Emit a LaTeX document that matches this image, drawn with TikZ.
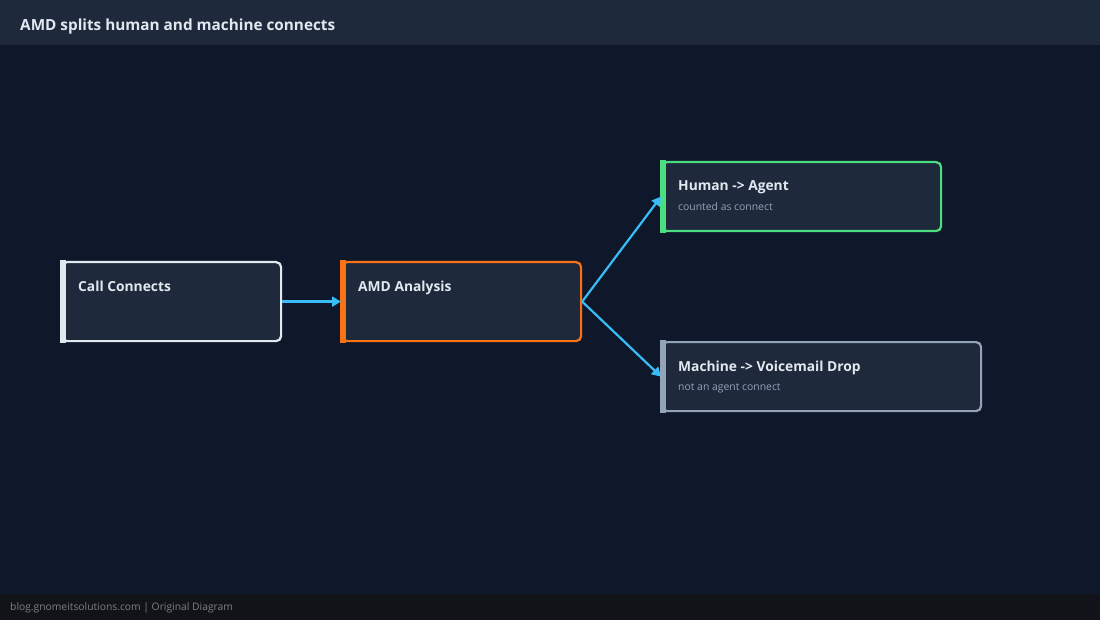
\documentclass[tikz,border=0pt]{standalone}
\usepackage{fontspec}
\setmainfont{Open Sans}
\usetikzlibrary{calc,arrows.meta}
\definecolor{bgdark}{HTML}{0F172A}
\definecolor{bgbar}{HTML}{1E293B}
\definecolor{boxfill}{HTML}{1E293B}
\definecolor{footbg}{HTML}{111318}
\definecolor{linkblue}{HTML}{38BDF8}
\definecolor{cwhite}{HTML}{E2E8F0}
\definecolor{corange}{HTML}{F97316}
\definecolor{cgreen}{HTML}{4ADE80}
\definecolor{cgray}{HTML}{94A3B8}
\tikzset{
  stepbox/.style={draw=#1, fill=boxfill, line width=2.2pt, rounded corners=5pt, inner sep=0pt, anchor=north west},
  steptitle/.style={anchor=base west, text=cwhite, font=\bfseries\fontsize{13.8}{15}\selectfont, inner sep=0pt},
  stepsub/.style={anchor=base west, text=cgray, font=\fontsize{10.4}{12}\selectfont, inner sep=0pt},
  link/.style={draw=linkblue, line width=2.2pt, -{Triangle[length=9pt,width=10pt]}}
}
\begin{document}
\begin{tikzpicture}[x=1pt,y=-1pt]
    \useasboundingbox (0,0) rectangle (1100,620);
    \fill [bgdark] (0,0) rectangle (1100,620);
    \fill [bgbar] (0,0) rectangle (1100,45);
    \fill [footbg] (0,594) rectangle (1100,620);
    \node [anchor=base west, text=cwhite, font=\bfseries\fontsize{15.3}{18}\selectfont, inner sep=0pt] (title) at (20,30.5) {AMD splits human and machine connects};
    \node [anchor=base west, text=gray, font=\fontsize{10.3}{12}\selectfont, inner sep=0pt] (foot) at (10,610) {blog.gnomeitsolutions.com | Original Diagram};
    % boxes
    \node [stepbox=cwhite, minimum width=219pt, minimum height=79pt] (call) at (61,261) {};
    \node [stepbox=corange, minimum width=239pt, minimum height=79pt] (amd) at (341,261) {};
    \node [stepbox=cgreen, minimum width=279pt, minimum height=69pt] (human) at (661,161) {};
    \node [stepbox=cgray, minimum width=319pt, minimum height=69pt] (machine) at (661,341) {};
    % left bars
    \foreach \b/\c in {call/cwhite, amd/corange, human/cgreen, machine/cgray}
        \fill [\c] ($(\b.north west)+(-1.1,-1.1)$) rectangle ($(\b.south west)+(5,1.1)$);
    % texts
    \node [steptitle] (callt) at ($(call.north west)+(17,30)$) {Call Connects};
    \node [steptitle] (amdt) at ($(amd.north west)+(17,30)$) {AMD Analysis};
    \node [steptitle] (humant) at ($(human.north west)+(17,30)$) {Human -> Agent};
    \node [stepsub] (humans) at ($(human.north west)+(17,49.5)$) {counted as connect};
    \node [steptitle] (machinet) at ($(machine.north west)+(17,30)$) {Machine -> Voicemail Drop};
    \node [stepsub] (machines) at ($(machine.north west)+(17,49.5)$) {not an agent connect};
    % links
    \draw [link] (call.east) -- (amd.west);
    \draw [link] (amd.east) -- (human.west);
    \draw [link] (amd.east) -- (machine.west);
\end{tikzpicture}
\end{document}
